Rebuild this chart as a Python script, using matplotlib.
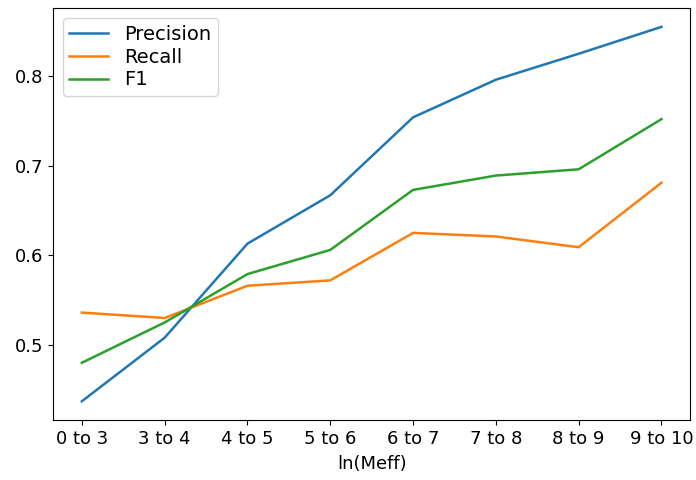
import matplotlib.pyplot as plt
import numpy as np

plt.rcParams.update({
    "font.size": 13,
    "lines.linewidth": 1.8,
    "legend.fontsize": 14,
})

categories = ["0 to 3", "3 to 4", "4 to 5", "5 to 6", "6 to 7", "7 to 8", "8 to 9", "9 to 10"]
precision = [0.437, 0.508, 0.613, 0.667, 0.754, 0.796, 0.825, 0.855]
recall = [0.536, 0.530, 0.566, 0.572, 0.625, 0.621, 0.609, 0.681]
f1 = [0.480, 0.525, 0.579, 0.606, 0.673, 0.689, 0.696, 0.752]

fig, ax = plt.subplots(figsize=(6.96, 4.8), dpi=100)
fig.subplots_adjust(left=0.076, right=0.992, top=0.983, bottom=0.125)

x = np.arange(len(categories))
ax.plot(x, precision, label="Precision")
ax.plot(x, recall, label="Recall")
ax.plot(x, f1, label="F1")

ax.set_xticks(x)
ax.set_xticklabels(categories)
ax.set_xlabel("ln(Meff)", labelpad=5)
ax.legend(loc="upper left", labelspacing=0.2, borderpad=0.35)

plt.savefig("out.png", dpi=100, facecolor="white")
plt.close()
